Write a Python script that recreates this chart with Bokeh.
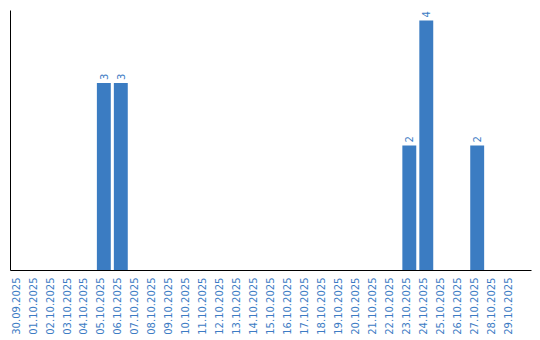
from bokeh.plotting import figure
from bokeh.models import Range1d, FixedTicker, ColumnDataSource
from bokeh.core.properties import value
from bokeh.embed import file_html
from bokeh.resources import INLINE

dates = ["30.09.2025", "01.10.2025", "02.10.2025", "03.10.2025", "04.10.2025",
         "05.10.2025", "06.10.2025", "07.10.2025", "08.10.2025", "09.10.2025",
         "10.10.2025", "11.10.2025", "12.10.2025", "13.10.2025", "14.10.2025",
         "15.10.2025", "16.10.2025", "17.10.2025", "18.10.2025", "19.10.2025",
         "20.10.2025", "21.10.2025", "22.10.2025", "23.10.2025", "24.10.2025",
         "25.10.2025", "26.10.2025", "27.10.2025", "28.10.2025", "29.10.2025"]
counts = [0, 0, 0, 0, 0, 3, 3, 0, 0, 0, 0, 0, 0, 0, 0,
          0, 0, 0, 0, 0, 0, 0, 0, 2, 4, 0, 0, 2, 0, 0]

BAR = "#3b7cc2"
TXT = "#3d7cc4"

idx = list(range(len(dates)))
nz = [i for i in idx if counts[i] > 0]
src = ColumnDataSource(dict(x=[i for i in nz], top=[counts[i] for i in nz],
                            lab=[str(counts[i]) for i in nz]))

p = figure(width=540, height=340, output_backend="svg", toolbar_location=None,
           x_range=Range1d(-0.5, 30.2), y_range=Range1d(0, 4.16),
           min_border_left=10, min_border_right=9, min_border_top=10,
           min_border_bottom=70)

p.vbar(x="x", top="top", width=0.82, source=src, color=BAR, line_color=None)
p.text(x="x", y="top", text="lab", source=src, angle=1.5708,
       text_align="left", text_baseline="middle", y_offset=-3,
       text_color=TXT, text_font=value("DejaVu Sans"), text_font_size="10px")

shift = 0.2
ticks = [i - shift for i in idx]
p.xaxis.ticker = FixedTicker(ticks=ticks)
p.xaxis.major_label_overrides = {t: d for t, d in zip(ticks, dates)}
p.xaxis.major_label_orientation = 1.5708
p.xaxis.major_label_text_color = TXT
p.xaxis.major_label_text_font = "DejaVu Sans"
p.xaxis.major_label_text_font_size = "10px"
p.xaxis.major_label_standoff = 7
p.xaxis.major_tick_line_color = None
p.xaxis.minor_tick_line_color = None
p.xaxis.major_tick_out = 0
p.xaxis.major_tick_in = 0
p.xaxis.axis_line_color = "black"

p.yaxis.ticker = FixedTicker(ticks=[])
p.yaxis.major_tick_line_color = None
p.yaxis.minor_tick_line_color = None
p.yaxis.major_tick_out = 0
p.yaxis.major_label_text_font_size = "0px"
p.yaxis.axis_line_color = "black"

p.xgrid.visible = False
p.ygrid.visible = False
p.outline_line_color = None
p.background_fill_color = "white"
p.border_fill_color = "white"

open("out.html", "w").write(file_html(p, INLINE))
